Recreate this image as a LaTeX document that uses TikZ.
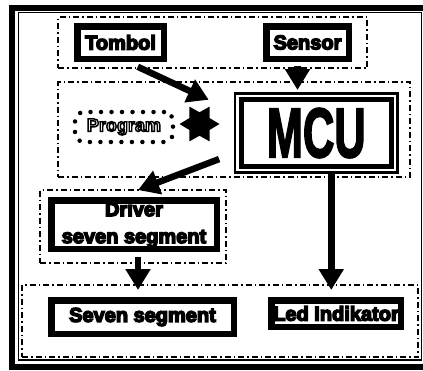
\documentclass[tikz,border=0pt]{standalone}
\usepackage{fontspec}
\usepackage{graphicx}
\usetikzlibrary{arrows.meta,fit,shapes.geometric}
\newfontfamily\blk{Liberation Sans Bold}[FakeBold=7]
\newfontfamily\blkout{Liberation Sans Bold}[FakeBold=8]
\newfontfamily\mcufont{Liberation Sans Bold}[FakeBold=3]
\newcommand{\outlined}[1]{\special{pdf:bcolor [1] [0]}#1\special{pdf:ecolor}}

\begin{document}
\begin{tikzpicture}[x=1pt, y=-1pt,
  block/.style={draw, line width=6.5pt, inner sep=0pt, outer sep=0pt, align=center, font=\blk\fontsize{20}{27}\selectfont},
  group/.style={draw, line width=1.6pt, dash pattern=on 6pt off 3pt on 1.5pt off 3pt, inner sep=0pt, outer sep=0pt},
  flow/.style={line width=6.5pt, -{Triangle[length=21pt,width=24pt]}}]
    \useasboundingbox (0,0) rectangle (423,370);
    \draw[line width=6pt] (12,7.5) rectangle (428,366.5);
    \draw[line width=1.5pt] (18.3,12.7) rectangle (421.6,360);

    \node[group, minimum width=309pt, minimum height=51pt] (inputs)   at (212.5,42.5) {};
    \node[group, minimum width=352pt, minimum height=95pt] (core)     at (234,129.5) {};
    \node[group, minimum width=186pt, minimum height=73pt] (drvgroup) at (133,226.5) {};
    \node[group, minimum width=396pt, minimum height=72pt] (outputs)  at (220,321) {};

    \node[block, minimum width=86.5pt, minimum height=32.5pt]  (tombol) at (120.5,42.5) {Tombol};
    \node[block, minimum width=82.5pt, minimum height=32.5pt]  (sensor) at (307.5,42.5) {Sensor};
    \node[block, line width=5pt, minimum width=150.5pt, minimum height=67pt] (mcu) at (316.25,133)
        {\scalebox{0.62}[1]{\mcufont\fontsize{70}{70}\selectfont MCU}};
    \node[draw, line width=2.5pt, inner sep=6pt, outer sep=0pt, fit=(mcu)] (mcuouter) {};
    \node[draw, line width=4.5pt, dash pattern=on 0pt off 10.5pt, line cap=round, rounded corners=9pt,
          minimum width=98pt, minimum height=30pt, inner sep=0pt, outer sep=0pt,
          font=\blkout\fontsize{18}{18}\selectfont] (program) at (124,127) {\outlined{Program}};
    \node[star, star points=6, star point ratio=1.7, shape border rotate=90, fill,
          minimum size=40pt, inner sep=0pt] (link) at (199.5,124) {};
    \node[block, minimum width=165.5pt, minimum height=48.5pt] (driver) at (134,224.5) {Driver\\seven segment};
    \node[block, minimum width=182.5pt, minimum height=33.5pt] (sevseg) at (142.5,317) {Seven segment};
    \node[block, minimum width=129.5pt, minimum height=26.5pt] (led)    at (336,313.5) {Led Indikator};

    \draw[flow, shorten <=19pt, shorten >=29pt] (tombol.south) -- ([yshift=21pt]mcuouter.west);
    \draw[flow, shorten <=7pt, shorten >=3.5pt] ([xshift=-10pt]sensor.south) -- ([xshift=-10pt]sensor.south |- mcuouter.north);
    \draw[flow, shorten <=17pt] ([yshift=-20pt]mcuouter.west) -- ([xshift=5pt]drvgroup.north);
    \draw[flow, shorten <=8pt, shorten >=-5pt] ([xshift=4pt]driver.south) -- ([xshift=4pt]driver.south |- outputs.north);
    \draw[flow, shorten >=-5pt] ([xshift=15pt]mcuouter.south) -- ([xshift=15pt]mcuouter.south |- outputs.north);
\end{tikzpicture}
\end{document}
